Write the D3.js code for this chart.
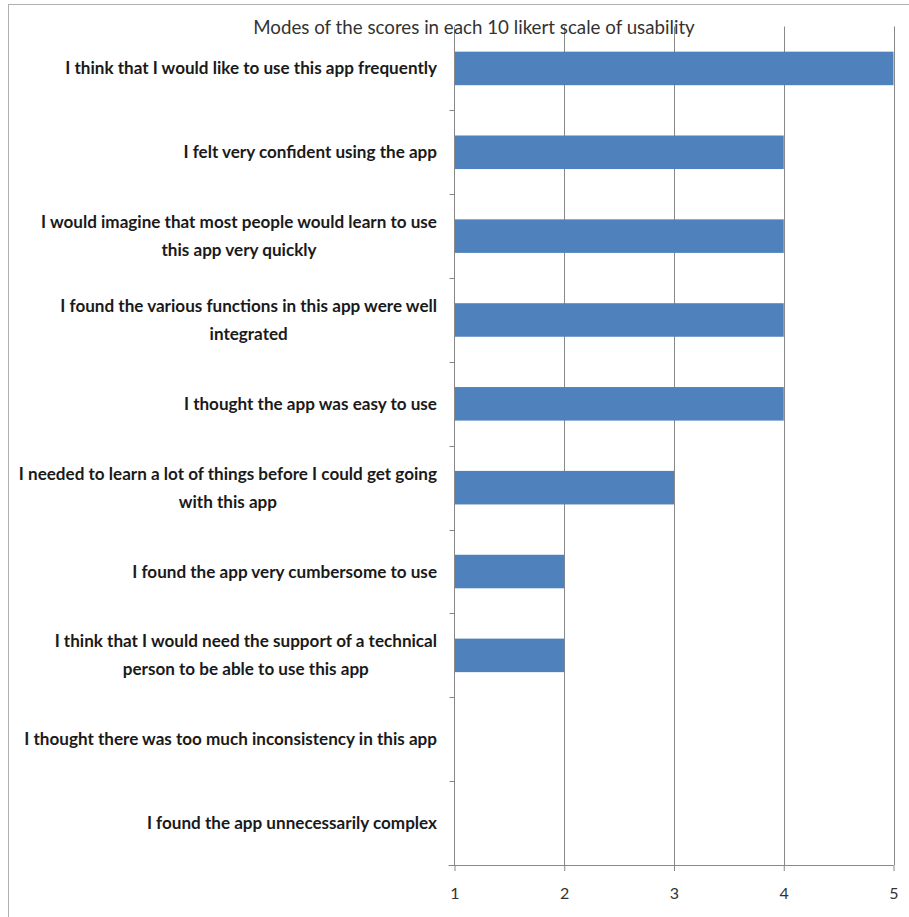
<!DOCTYPE html>
<html><head><meta charset="utf-8">
<script src="https://cdn.jsdelivr.net/npm/d3@7/dist/d3.min.js"></script>
<style>body{margin:0;background:#fff}svg{display:block}</style>
</head><body>
<svg id="c" width="909" height="917"></svg>
<script>
const title = "Modes of the scores in each 10 likert scale of usability";
const categories = [
  ["I think that I would like to use this app frequently"],
  ["I felt very confident using the app"],
  ["I would imagine that most people would learn to use", "this app very quickly"],
  ["I found the various functions in this app were well", "integrated"],
  ["I thought the app was easy to use"],
  ["I needed to learn a lot of things before I could get going", "with this app"],
  ["I found the app very cumbersome to use"],
  ["I think that I would need the support of a technical", "person to be able to use this app"],
  ["I thought there was too much inconsistency in this app"],
  ["I found the app unnecessarily complex"]
];
const values = [5, 4, 4, 4, 4, 3, 2, 2, 1, 1];
const xTicks = [1, 2, 3, 4, 5];

(function () {
const svg = d3.select("#c");
const font = "Lato, 'Open Sans', sans-serif";
const pLeft = 454.5, pRight = 893.5, pTop = 26.5, pBottom = 865;

// outer border
svg.append("rect").attr("x", 8.5).attr("y", 4.5).attr("width", 1000).attr("height", 1000)
  .attr("fill", "none").attr("stroke", "#b0b0b0").attr("stroke-width", 1);

const x = d3.scaleLinear().domain([1, 5]).range([pLeft, pRight]);
const keys = categories.map((c, i) => i);
const y = d3.scaleBand().domain(keys).range([pTop, pBottom]).paddingInner(0.6).paddingOuter(0.3);
const yb = d3.scaleBand().domain(keys).range([pTop, pBottom]);

// gridlines
svg.append("g").selectAll("line").data(xTicks.slice(1)).join("line")
  .attr("x1", d => Math.round(x(d)) + 0.5).attr("x2", d => Math.round(x(d)) + 0.5)
  .attr("y1", pTop).attr("y2", pBottom).attr("stroke", "#888").attr("stroke-width", 1);

// bars
svg.append("g").selectAll("rect").data(values).join("rect")
  .attr("x", x(1)).attr("y", (d, i) => y(i))
  .attr("width", d => x(d) - x(1)).attr("height", y.bandwidth())
  .attr("fill", "#4F81BD");

// x axis
const xAxis = d3.axisBottom(x).tickValues(xTicks).tickSize(6).tickPadding(17).tickFormat(d3.format("d"));
const gx = svg.append("g").attr("transform", `translate(0,${pBottom})`).call(xAxis);
gx.select(".domain").attr("stroke", "#888").attr("d", `M${pLeft - 6},0.5H${pRight}`);
gx.selectAll(".tick line").attr("stroke", "#888");
gx.selectAll(".tick text").attr("fill", "#333").style("font-family", font).style("font-size", "16px");

// y axis line and ticks at band boundaries
svg.append("line").attr("x1", pLeft).attr("x2", pLeft).attr("y1", pTop).attr("y2", pBottom)
  .attr("stroke", "#888");
svg.append("g").selectAll("line").data(keys.slice(1)).join("line")
  .attr("x1", pLeft - 5).attr("x2", pLeft).attr("y1", d => Math.round(yb(d)) + 0.5).attr("y2", d => Math.round(yb(d)) + 0.5)
  .attr("stroke", "#888");

// category labels
const labelRight = 437;
function fit(text, weight, target) {
  const p = svg.append("text").style("font-family", font).style("font-weight", weight)
    .style("font-size", "14px").text(text);
  const w = p.node().getComputedTextLength();
  p.remove();
  return 14 * target / w;
}
const fs = fit(categories[0][0], "bold", 372);

categories.forEach((lines, i) => {
  const cy = yb(i) + yb.bandwidth() / 2;
  const g = svg.append("g");
  const texts = lines.map((t, j) => g.append("text")
    .attr("y", cy + (j - (lines.length - 1) / 2) * 28)
    .attr("dy", "0.35em")
    .attr("text-anchor", "middle")
    .style("font-family", font).style("font-weight", "bold").style("font-size", fs + "px")
    .attr("fill", "#1a1a1a").text(t));
  const widths = texts.map(t => t.node().getComputedTextLength());
  const bw = d3.max(widths);
  texts.forEach(t => t.attr("x", labelRight - bw / 2));
});

// title
const tfs = fit(title, "normal", 442);
svg.append("text").attr("x", 474).attr("y", 27).attr("dy", "0.35em").attr("text-anchor", "middle")
  .style("font-family", font).style("font-size", tfs + "px").attr("fill", "#333").text(title);
})();
</script>
</body></html>
